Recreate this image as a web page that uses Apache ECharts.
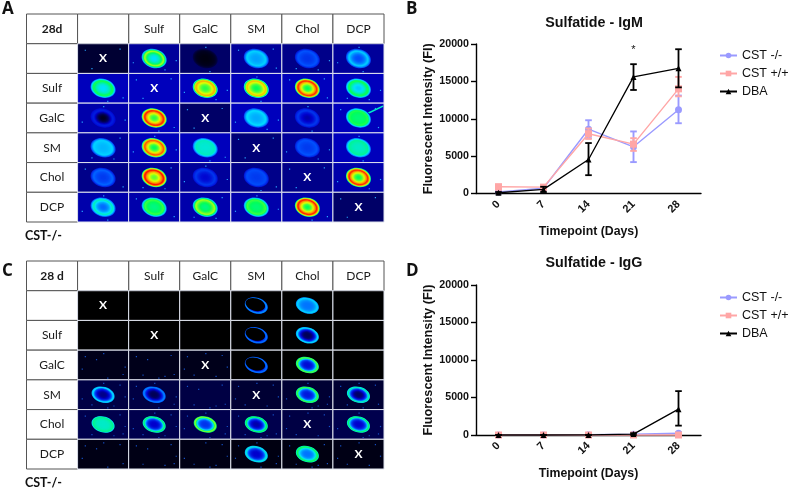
<!DOCTYPE html>
<html><head><meta charset="utf-8">
<style>html,body{margin:0;padding:0;background:#fff}#c{width:788px;height:490px}</style>
<script src="https://cdn.jsdelivr.net/npm/echarts@6/dist/echarts.min.js"></script>
</head><body><div id="c"></div>
<script>
// ---------- line chart data ----------
const timepoints = ['0','7','14','21','28'];
const seriesNames = ['CST -/-','CST +/+','DBA'];
const igmKo = [200,700,8600,6250,11200];
const igmKoLow = [100,500,7400,4200,9400];
const igmKoHigh = [300,900,9800,8300,13100];
const igmWt = [900,850,8000,6600,14000];
const igmWtLow = [500,500,7300,5700,13000];
const igmWtHigh = [1200,1150,8700,7400,15600];
const igmDba = [100,550,4550,15600,16750];
const igmDbaLow = [0,200,2450,13850,14200];
const igmDbaHigh = [200,900,6750,17300,19300];
const igmSignificant = [[3,19200]];
const iggKo = [0,0,30,100,230];
const iggKoLow = [0,0,0,50,100];
const iggKoHigh = [0,0,60,150,360];
const iggWt = [0,0,0,0,0];
const iggWtLow = [0,0,0,0,0];
const iggWtHigh = [0,0,0,0,0];
const iggDba = [0,0,10,120,3450];
const iggDbaLow = [0,0,0,0,1250];
const iggDbaHigh = [0,0,20,240,5850];
// ---------- spot array tables ----------
const lipids = ['Sulf','GalC','SM','Chol','DCP'];
const rowLabels = ['','Sulf','GalC','SM','Chol','DCP'];
// rim / core intensity of each spot, null = X (self pair), 0 = no spot
const panelARim = [
 [null,.6,.02,.37,.25,.37],
 [.52,null,.72,.7,.86,.52],
 [.17,.87,null,.38,.21,.52],
 [.37,.82,.43,null,.25,.46],
 [.27,.89,.21,.24,null,.87],
 [.44,.54,.6,.54,.88,null]];
const panelACore = [
 [0,.38,.01,.32,.2,.24],
 [.38,0,.52,.5,.5,.36],
 [.02,.52,0,.33,.1,.48],
 [.34,.5,.41,0,.21,.42],
 [.21,.55,.13,.21,0,.5],
 [.27,.47,.47,.48,.5,0]];
const panelABack = [
 [.03,.09,.06,.09,.08,.09],
 [.11,.11,.11,.11,.11,.11],
 [.1,.11,.06,.11,.09,.11],
 [.09,.11,.11,.07,.09,.11],
 [.08,.09,.09,.08,.08,.1],
 [.1,.1,.1,.1,.1,.06]];
const panelCRim = [
 [null,0,0,.33,.38,0],
 [0,null,0,.3,.4,0],
 [0,0,null,.3,.58,0],
 [.4,.31,0,null,.56,.47],
 [.47,.51,.6,.53,null,.51],
 [0,0,0,.43,.53,null]];
const panelCCore = [
 [0,0,0,0,.28,0],
 [0,0,0,.01,.05,0],
 [0,0,0,.01,.14,0],
 [.08,.05,0,0,.16,.06],
 [.42,.12,.2,.1,0,.12],
 [0,0,0,.12,.28,0]];
const panelCBack = [
 [0,0,0,0,0,0],
 [0,0,0,0,0,0],
 [.015,.015,.015,0,0,0],
 [.04,.04,.04,.03,.03,.03],
 [.045,.045,.045,.045,.04,.045],
 [.012,.012,.012,.01,.01,.012]];

const stops = [[0,[0,0,0]],[.12,[0,0,205]],[.25,[0,85,255]],[.38,[0,225,255]],[.5,[0,255,90]],[.62,[225,255,0]],[.75,[255,140,0]],[.88,[255,0,0]],[1,[170,0,0]]];
function heat(v){
  v=Math.max(0,Math.min(1,v));
  for(let i=1;i<stops.length;i++){ if(v<=stops[i][0]){
    const a=stops[i-1],b=stops[i],t=(v-a[0])/(b[0]-a[0]);
    return 'rgb('+a[1].map((c,j)=>Math.round(c+(b[1][j]-c)*t)).join(',')+')';
  }}
  return 'rgb(170,0,0)';
}
const speckle=[[.14,.2],[.82,.16],[.27,.82],[.7,.86],[.92,.55],[.08,.62],[.5,.1],[.58,.92],[.36,.3],[.88,.8]];
function cellsFrom(rim,core,back){
  const out=[];
  rim.forEach((r,i)=>r.forEach((v,j)=>out.push([j+1,i+1,v===null?-1:v,core[i][j],back[i][j]])));
  return out;
}
function spotRender(opts){
  return function(params,api){
    const col=api.value(0),row=api.value(1),rim=api.value(2),core=api.value(3),bg=api.value(4);
    const p=api.coord([col,row]),s=api.size([1,1]);
    const kids=[{type:'rect',shape:{x:p[0]-s[0]/2,y:p[1]-s[1]/2,width:s[0],height:s[1]},style:{fill:heat(bg)}}];
    const n=opts.dots;
    for(let k=0;k<n;k++){
      const d=speckle[(k+col*3+row*7)%speckle.length];
      if(opts.cond&&bg<=0.005)continue;
      kids.push({type:'rect',shape:{x:p[0]-s[0]/2+d[0]*s[0],y:p[1]-s[1]/2+d[1]*s[1],width:1.2,height:1.2},style:{fill:opts.dotColor}});
    }
    if(opts.streak&&col===opts.streak[0]&&row===opts.streak[1]){
      kids.push({type:'line',shape:{x1:p[0]+8,y1:p[1]-4,x2:p[0]+s[0]/2-1,y2:p[1]-s[1]/2+3},style:{stroke:heat(.42),lineWidth:1.6}});
    }
    if(rim>0){
      const N=18,cx=p[0],cy=p[1]+opts.dy;
      for(let k=0;k<=N;k++){
        const f=opts.outer*(1-k/N);
        if(f<=0.02)break;
        let v;
        if(f>opts.peak){v=bg+(rim-bg)*Math.pow((opts.outer-f)/(opts.outer-opts.peak),opts.edge);}
        else {const t=f/opts.peak;v=core+(rim-core)*Math.pow(t,opts.inner);}
        kids.push({type:'ellipse',x:cx,y:cy,rotation:-0.28,shape:{cx:0,cy:0,rx:opts.rx*f,ry:opts.ry*f},style:{fill:heat(v)}});
      }
      if(opts.thinRing&&core<=0.01){
        kids.push({type:'ellipse',x:cx-1,y:cy-1,rotation:-0.28,shape:{cx:0,cy:0,rx:opts.rx*.8,ry:opts.ry*.74},style:{fill:heat(bg)}});
      }
    }
    if(rim<0){
      kids.push({type:'text',x:p[0],y:p[1],style:{text:'X',fill:'#fff',font:'bold 12px Lato',align:'center',verticalAlign:'middle'}});
    }
    kids.push({type:'rect',shape:{x:p[0]-s[0]/2,y:p[1]-s[1]/2,width:s[0],height:s[1]},style:{fill:'none',stroke:'#dfe3ee',lineWidth:1}});
    return {type:'group',children:kids};
  };
}
function tableLabels(corner){
  const out=[[0,0,corner,1]];
  lipids.forEach((l,j)=>out.push([j+2,0,l,0]));
  out.push([1,0,'',0]);
  rowLabels.forEach((l,i)=>out.push([0,i+1,l,0]));
  return out;
}
function labelRender(params,api,labels){
  const col=api.value(0),row=api.value(1),d=labels[params.dataIndex];
  const p=api.coord([col,row]),s=api.size([1,1]);
  return {type:'group',children:[
    {type:'rect',shape:{x:p[0]-s[0]/2,y:p[1]-s[1]/2,width:s[0],height:s[1]},style:{fill:'#fff',stroke:'#555',lineWidth:1}},
    {type:'text',x:p[0],y:p[1],style:{text:d[2],fill:'#1a1a1a',font:(d[3]?'bold ':'')+'12px Lato',align:'center',verticalAlign:'middle'}}
  ]};
}
function labelSeries(corner,ax){
  const labels=tableLabels(corner);
  return {type:'custom',xAxisIndex:ax,yAxisIndex:ax,silent:true,encode:{x:0,y:1},
    data:labels.map(l=>[l[0],l[1]]),
    renderItem:(params,api)=>labelRender(params,api,labels)};
}
const idx=['0','1','2','3','4','5','6'];
const hiddenX=i=>({type:'category',gridIndex:i,data:idx,show:false});
const hiddenY=i=>({type:'category',gridIndex:i,data:idx,show:false,inverse:true});
const font='"Liberation Sans", Arial, sans-serif';
const plotX=(g,gap)=>({type:'category',gridIndex:g,data:timepoints,boundaryGap:true,
  name:'Timepoint (Days)',nameLocation:'middle',nameGap:gap,
  nameTextStyle:{fontFamily:font,fontWeight:'bold',fontSize:12.3,color:'#111'},
  axisLine:{onZero:false,lineStyle:{color:'#000',width:1.4}},
  axisTick:{alignWithLabel:true,length:4,lineStyle:{color:'#000',width:1.4}},
  axisLabel:{rotate:45,fontFamily:font,fontWeight:'bold',fontSize:11,color:'#111',margin:9},splitLine:{show:false}});
const plotY=g=>({type:'value',gridIndex:g,min:0,max:20000,interval:5000,
  name:'Fluorescent Intensity (FI)',nameLocation:'middle',nameGap:39,
  nameTextStyle:{fontFamily:font,fontWeight:'bold',fontSize:12.7,color:'#111'},
  axisLine:{show:true,lineStyle:{color:'#000',width:1.4}},
  axisTick:{show:true,length:5,lineStyle:{color:'#000',width:1.4}},
  axisLabel:{fontFamily:font,fontWeight:'bold',fontSize:10.7,color:'#111',margin:7,formatter:v=>String(v)},splitLine:{show:false}});
const colors=['#9a9aff','#ffa6a6','#000000'];
const symbols=['circle','rect','triangle'];
function lineS(k,vals,ax){
  return {type:'line',name:seriesNames[k],data:vals,xAxisIndex:ax,yAxisIndex:ax,clip:false,
    symbol:symbols[k],symbolSize:k===2?6:7,showSymbol:true,animation:false,z:3+k,
    lineStyle:{color:colors[k],width:k===2?1.3:1.4},itemStyle:{color:colors[k]}};
}
function errS(k,low,high,ax){
  return {type:'custom',xAxisIndex:ax,yAxisIndex:ax,silent:true,z:3+k,clip:false,encode:{x:0,y:[1,2]},
    data:low.map((l,i)=>[i,l,high[i]]),
    renderItem:(params,api)=>{
      const x=api.value(0),a=api.coord([x,api.value(1)]),b=api.coord([x,api.value(2)]),h=3.3;
      const st={stroke:colors[k],lineWidth:k===2?1.8:1.9,fill:'none'};
      return {type:'group',children:[
        {type:'line',shape:{x1:a[0],y1:a[1],x2:b[0],y2:b[1]},style:st},
        {type:'line',shape:{x1:a[0]-h,y1:a[1],x2:a[0]+h,y2:a[1]},style:st},
        {type:'line',shape:{x1:b[0]-h,y1:b[1],x2:b[0]+h,y2:b[1]},style:st}
      ]};
    }};
}
const starSeries=(points,ax)=>({type:'custom',xAxisIndex:ax,yAxisIndex:ax,silent:true,z:8,encode:{x:0,y:1},data:points,
  renderItem:(params,api)=>{
    const p=api.coord([api.value(0),api.value(1)]);
    return {type:'text',x:p[0],y:p[1],style:{text:'*',fill:'#111',font:'11px "Liberation Sans"',align:'center',verticalAlign:'middle'}};
  }});
const legendBase={orient:'vertical',left:714,itemWidth:17,itemHeight:7,itemGap:5,
  textStyle:{fontFamily:font,fontSize:12.5,color:'#111',padding:[0,0,0,0]},data:seriesNames,selectedMode:false};
const letter=(t,x,y)=>({type:'text',left:x,top:y,style:{text:t,font:'bold 17px "Open Sans", "Liberation Sans"',fill:'#111'}});
const caption=(x,y)=>({type:'text',left:x,top:y,style:{text:'CST-/-',font:'bold 12.5px Lato',fill:'#111'}});

const optsA={dots:3,dotColor:'#27a6ff',rx:13.5,ry:10,outer:1.0,peak:.74,edge:.5,inner:2.4,dy:0,streak:[6,3]};
const optsC={dots:7,dotColor:'#1450c8',cond:true,rx:12.5,ry:8.4,outer:1.0,peak:.85,edge:.25,inner:3.6,dy:0,thinRing:true};

const chart=echarts.init(document.getElementById('c'),null,{renderer:'canvas'});
chart.setOption({
  animation:false,backgroundColor:'#fff',
  title:[
    {text:'Sulfatide - IgM',left:589,top:11,textAlign:'center',textStyle:{fontFamily:font,fontWeight:'bold',fontSize:14.3,color:'#111'}},
    {text:'Sulfatide - IgG',left:589,top:251,textAlign:'center',textStyle:{fontFamily:font,fontWeight:'bold',fontSize:14.3,color:'#111'}}
  ],
  legend:[Object.assign({},legendBase,{top:44}),Object.assign({},legendBase,{top:286})],
  grid:[
    {left:26.5,top:14,width:357.5,height:208},
    {left:26.5,top:261,width:357.5,height:208},
    {left:476,top:44,width:225,height:149.5},
    {left:476,top:285,width:225,height:150}
  ],
  xAxis:[hiddenX(0),hiddenX(1),plotX(2,32),plotX(3,33)],
  yAxis:[hiddenY(0),hiddenY(1),plotY(2),plotY(3)],
  graphic:[letter('A',2,1),letter('B',406,1),letter('C',2,263),letter('D',406,263),caption(25,229),caption(25,476)],
  series:[
    labelSeries('28d',0),
    {type:'custom',xAxisIndex:0,yAxisIndex:0,silent:true,encode:{x:0,y:1},data:cellsFrom(panelARim,panelACore,panelABack),renderItem:spotRender(optsA)},
    labelSeries('28 d',1),
    {type:'custom',xAxisIndex:1,yAxisIndex:1,silent:true,encode:{x:0,y:1},data:cellsFrom(panelCRim,panelCCore,panelCBack),renderItem:spotRender(optsC)},
    errS(0,igmKoLow,igmKoHigh,2),errS(1,igmWtLow,igmWtHigh,2),errS(2,igmDbaLow,igmDbaHigh,2),
    lineS(0,igmKo,2),lineS(1,igmWt,2),lineS(2,igmDba,2),starSeries(igmSignificant,2),
    errS(0,iggKoLow,iggKoHigh,3),errS(1,iggWtLow,iggWtHigh,3),errS(2,iggDbaLow,iggDbaHigh,3),
    lineS(0,iggKo,3),lineS(1,iggWt,3),lineS(2,iggDba,3)
  ]
});
</script></body></html>
